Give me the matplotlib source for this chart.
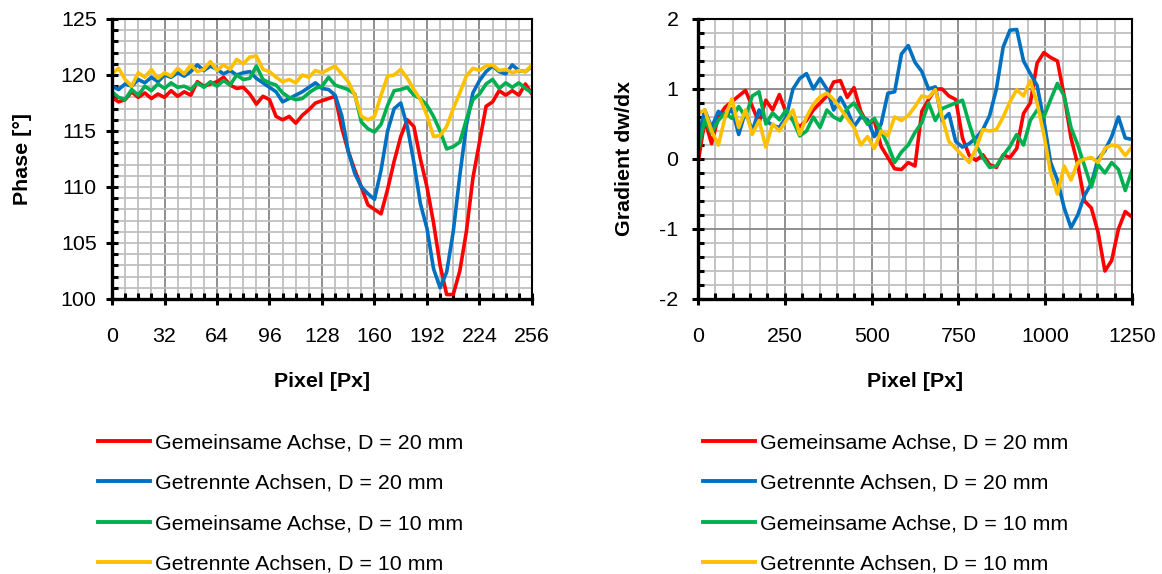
import numpy as np
import matplotlib.pyplot as plt
from matplotlib.ticker import MultipleLocator

plt.rcParams['font.family'] = ['Liberation Sans', 'DejaVu Sans']
plt.rcParams['axes.unicode_minus'] = False

# Series labels and colours (Excel standard palette)
labels = ['Gemeinsame Achse, D = 20 mm', 'Getrennte Achsen, D = 20 mm',
          'Gemeinsame Achse, D = 10 mm', 'Getrennte Achsen, D = 10 mm']
colors = ['#FF0000', '#0070C0', '#00B050', '#FFC000']

# Left chart: phase over pixel (sampled every 4 px)
px_phase = np.arange(0, 257, 4)
phase_gem20 = [118.0, 117.6, 117.8, 118.5, 118.0, 118.4, 117.9, 118.3, 118.0, 118.6,
               118.1, 118.5, 118.2, 119.4, 119.0, 119.2, 119.4, 119.8, 119.1, 118.8,
               118.9, 118.3, 117.4, 118.1, 117.8, 116.3, 116.0, 116.3, 115.7, 116.4,
               116.9, 117.5, 117.7, 117.9, 118.1, 115.3, 113.2, 111.5, 110.0, 108.4,
               108.0, 107.6, 109.8, 112.3, 114.5, 116.0, 115.4, 112.5, 110.0, 106.8,
               103.0, 100.4, 100.4, 102.5, 106.0, 110.8, 114.0, 117.2, 117.6, 118.6,
               118.2, 118.6, 118.2, 119.2, 118.3]
phase_get20 = [119.0, 118.7, 119.2, 119.0, 119.6, 119.3, 119.8, 119.4, 120.0, 119.8,
               120.2, 119.9, 120.3, 120.9, 120.4, 120.8, 120.5, 120.1, 120.4, 120.0,
               120.2, 120.3, 119.7, 119.3, 118.9, 118.5, 117.6, 117.9, 118.2, 118.5,
               118.9, 119.3, 118.8, 118.7, 118.2, 116.4, 113.2, 111.2, 110.0, 109.4,
               108.9, 111.5, 115.0, 117.0, 117.5, 115.4, 112.2, 108.5, 106.3, 102.7,
               101.0, 102.4, 106.0, 111.0, 115.5, 118.4, 119.5, 120.3, 120.8, 120.3,
               120.1, 120.9, 120.4, 120.3, 120.8]
phase_gem10 = [118.5, 118.0, 117.8, 118.7, 118.2, 119.0, 118.6, 119.2, 118.8, 119.3,
               118.9, 119.0, 118.7, 119.3, 118.9, 119.4, 119.0, 119.5, 119.1, 120.0,
               119.6, 119.7, 120.8, 119.6, 119.3, 119.1, 118.4, 118.0, 117.8, 117.9,
               118.4, 118.8, 119.0, 119.8, 119.1, 118.9, 118.7, 118.3, 115.8, 115.2,
               114.9, 115.6, 117.3, 118.6, 118.7, 118.9, 118.2, 117.9, 117.3, 116.3,
               115.0, 113.4, 113.6, 114.0, 116.0, 117.8, 118.3, 119.2, 119.6, 118.8,
               119.3, 118.9, 119.3, 118.8, 118.4]
phase_get10 = [120.1, 120.6, 119.6, 119.0, 120.2, 119.8, 120.5, 119.7, 120.2, 119.9,
               120.6, 120.1, 120.9, 120.3, 120.5, 121.2, 120.4, 120.9, 120.5, 121.4,
               121.0, 121.6, 121.7, 120.5, 120.3, 119.8, 119.4, 119.6, 119.3, 120.0,
               119.8, 120.4, 120.2, 120.5, 120.8, 120.1, 119.4, 118.2, 116.3, 116.0,
               116.3, 118.2, 119.9, 120.0, 120.5, 119.7, 118.7, 117.8, 116.4, 114.5,
               114.6, 115.4, 117.0, 118.4, 119.9, 120.6, 120.4, 120.8, 120.9, 120.4,
               120.5, 120.2, 120.4, 120.3, 120.9]

# Right chart: gradient over pixel (65 samples from 0 to 1250)
px_grad = np.linspace(0, 1250, 65)
grad_gem20 = [-0.06, 0.55, 0.22, 0.60, 0.74, 0.82, 0.90, 0.98, 0.75, 0.52,
              0.84, 0.70, 0.92, 0.66, 0.55, 0.46, 0.55, 0.70, 0.80, 0.90,
              1.10, 1.12, 0.88, 1.02, 0.68, 0.50, 0.55, 0.18, 0.02, -0.14,
              -0.15, -0.05, -0.10, 0.68, 0.85, 1.00, 1.00, 0.90, 0.85, 0.30,
              0.05, -0.02, 0.06, -0.08, -0.12, 0.06, 0.02, 0.15, 0.65, 0.80,
              1.37, 1.52, 1.45, 1.40, 0.90, 0.30, -0.08, -0.60, -0.70, -1.05,
              -1.60, -1.45, -1.00, -0.75, -0.83]
grad_get20 = [0.30, 0.70, 0.45, 0.68, 0.60, 0.72, 0.35, 0.68, 0.40, 0.70,
              0.55, 0.48, 0.45, 0.60, 1.00, 1.15, 1.22, 1.00, 1.15, 1.00,
              0.70, 0.88, 0.70, 0.46, 0.60, 0.56, 0.32, 0.50, 0.94, 0.96,
              1.50, 1.62, 1.38, 1.25, 1.00, 1.03, 0.55, 0.65, 0.25, 0.17,
              0.22, 0.30, 0.42, 0.62, 1.00, 1.60, 1.84, 1.85, 1.40, 1.22,
              1.05, 0.55, -0.05, -0.30, -0.70, -0.98, -0.80, -0.52, -0.35, 0.00,
              0.12, 0.32, 0.60, 0.30, 0.28]
grad_gem10 = [0.13, 0.56, 0.37, 0.55, 0.66, 0.58, 0.75, 0.60, 0.90, 0.96,
              0.50, 0.66, 0.56, 0.70, 0.55, 0.33, 0.40, 0.60, 0.45, 0.70,
              0.60, 0.55, 0.72, 0.80, 0.65, 0.50, 0.58, 0.40, 0.20, -0.05,
              0.10, 0.20, 0.38, 0.52, 0.80, 0.55, 0.72, 0.76, 0.80, 0.84,
              0.50, 0.20, 0.02, -0.12, -0.10, 0.05, 0.18, 0.35, 0.20, 0.55,
              0.70, 0.60, 0.85, 1.08, 0.90, 0.45, 0.20, -0.10, -0.40, -0.08,
              -0.20, -0.05, -0.15, -0.45, -0.16]
grad_get10 = [0.65, 0.70, 0.40, 0.20, 0.60, 0.86, 0.45, 0.70, 0.35, 0.55,
              0.17, 0.50, 0.40, 0.55, 0.70, 0.35, 0.60, 0.78, 0.89, 0.94,
              0.85, 0.72, 0.58, 0.45, 0.20, 0.32, 0.15, 0.40, 0.33, 0.60,
              0.55, 0.62, 0.75, 0.90, 0.88, 0.99, 0.60, 0.25, 0.15, 0.05,
              -0.05, 0.15, 0.42, 0.40, 0.42, 0.60, 0.82, 0.99, 0.90, 1.12,
              0.80, 0.35, -0.20, -0.50, -0.10, -0.30, -0.05, 0.00, 0.02, -0.05,
              0.15, 0.20, 0.18, 0.05, 0.17]

FS = 15.4
fig = plt.figure(figsize=(11.62, 5.74), dpi=100)
ax1 = fig.add_axes([0.0964, 0.4791, 0.3614, 0.4878])
ax2 = fig.add_axes([0.6007, 0.4791, 0.3735, 0.4878])


def style_axes(ax, xmaj, xmin, ymaj, ymin, dark_hgrid):
    ax.xaxis.set_major_locator(MultipleLocator(xmaj))
    ax.xaxis.set_minor_locator(MultipleLocator(xmin))
    ax.yaxis.set_major_locator(MultipleLocator(ymaj))
    ax.yaxis.set_minor_locator(MultipleLocator(ymin))
    ax.grid(which='minor', color='#BFBFBF', linewidth=1.3)
    ax.grid(which='major', axis='x', color='#878787', linewidth=1.3)
    ax.grid(which='major', axis='y', color='#878787' if dark_hgrid else '#BFBFBF',
            linewidth=1.3)
    ax.set_axisbelow(True)
    for side in ['left', 'bottom']:
        ax.spines[side].set_linewidth(2.4)
    for side in ['top', 'right']:
        ax.spines[side].set_linewidth(1.5)
    ax.tick_params(which='major', direction='inout', length=8, width=2.2,
                   labelsize=FS, top=False, right=False)
    ax.tick_params(which='minor', direction='in', length=4, width=2.2,
                   top=False, right=False)
    ax.tick_params(axis='x', which='major', pad=16)


series1 = [phase_gem20, phase_get20, phase_gem10, phase_get10]
for ys, c, lab in zip(series1, colors, labels):
    ax1.plot(px_phase, ys, color=c, linewidth=2.6, label=lab)
ax1.set_xlim(0, 256)
ax1.set_ylim(100, 125)
style_axes(ax1, 32, 8, 5, 1, dark_hgrid=False)
ax1.tick_params(axis='y', which='major', pad=7)
ax1.set_xlabel('Pixel [Px]', fontsize=FS, fontweight='bold')
ax1.set_ylabel('Phase [°]', fontsize=FS, fontweight='bold')
ax1.xaxis.set_label_coords(0.5, -0.26)
ax1.yaxis.set_label_coords(-0.19, 0.5)

series2 = [grad_gem20, grad_get20, grad_gem10, grad_get10]
for ys, c, lab in zip(series2, colors, labels):
    ax2.plot(px_grad, ys, color=c, linewidth=2.6, label=lab)
ax2.set_xlim(0, 1250)
ax2.set_ylim(-2, 2)
style_axes(ax2, 250, 50, 1, 0.2, dark_hgrid=True)
ax2.tick_params(axis='y', which='major', pad=10)
ax2.set_xlabel('Pixel [Px]', fontsize=FS, fontweight='bold')
ax2.set_ylabel('Gradient dw/dx', fontsize=FS, fontweight='bold')
ax2.xaxis.set_label_coords(0.5, -0.26)
ax2.yaxis.set_label_coords(-0.147, 0.5)

for ax, x0 in [(ax1, -0.033), (ax2, 0.0115)]:
    leg = ax.legend(loc='upper left', bbox_to_anchor=(x0, -0.48), frameon=False,
                    fontsize=FS, handlelength=2.43, handletextpad=0.23,
                    labelspacing=1.0, borderpad=0, borderaxespad=0)
    for line in leg.get_lines():
        line.set_linewidth(2.8)

fig.savefig('out.png', dpi=100)
